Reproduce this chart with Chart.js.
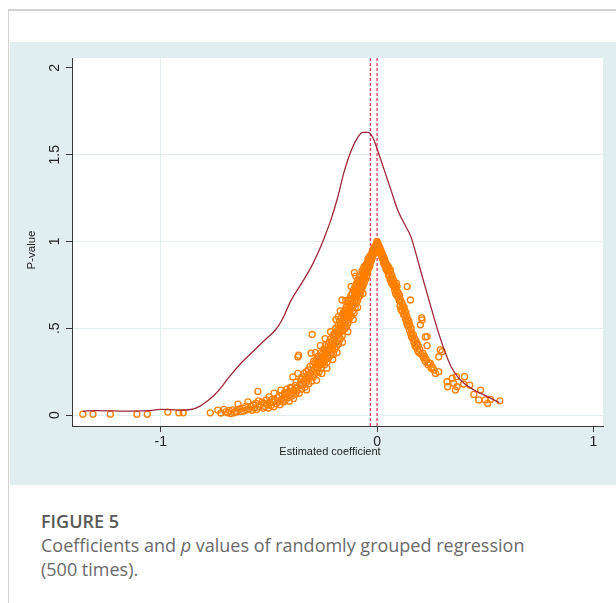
<!DOCTYPE html>
<html>
<head>
<meta charset="utf-8">
<script src="https://cdn.jsdelivr.net/npm/chart.js@4.4.1/dist/chart.umd.min.js"></script>
<style>
  html, body { margin: 0; padding: 0; background: #fff; }
  body { width: 616px; height: 603px; position: relative; overflow: hidden; font-family: "Open Sans", sans-serif; }
  .frame { position: absolute; left: 8px; top: 9px; right: 0; bottom: 0; border-top: 2px solid #d2d2d2; border-left: 1px solid #d2d2d2; }
  .panel { position: absolute; left: 10px; top: 42px; width: 606px; height: 443px; background: #e1eeef; }
  #chart { position: absolute; left: 0; top: 0; }
  .caption { position: absolute; left: 41px; top: 509px; width: 520px; color: #6a6a6a; font-size: 18px; line-height: 24px; }
  .caption .fig { color: #585858; font-weight: 600; display: block; }
</style>
</head>
<body>
<div class="frame"></div>
<div class="panel"><canvas id="chart" width="606" height="443"></canvas></div>
<div class="caption">
  <span class="fig">FIGURE 5</span>
  Coefficients and <i>p</i> values of randomly grouped regression (500 times).
</div>
<script>
// axis setup
const xTicks = [-1, 0, 1];
const xTickLabels = ["-1", "0", "1"];
const yTicks = [0, 0.5, 1, 1.5, 2];
const yTickLabels = ["0", ".5", "1", "1.5", "2"];
const xTitle = "Estimated coefficient";
const yTitle = "P-value";

// kernel density of the estimated coefficients (red line)
const densityX = [-1.36, -1.30, -1.15, -1.06, -1.00, -0.92, -0.86, -0.82, -0.78, -0.75, -0.72, -0.69,
  -0.63, -0.57, -0.52, -0.47, -0.44, -0.40, -0.35, -0.305, -0.275, -0.243, -0.212, -0.182, -0.151,
  -0.12, -0.09, -0.066, -0.043, -0.02, 0.003, 0.034, 0.065, 0.096, 0.126, 0.157, 0.188, 0.218,
  0.249, 0.28, 0.311, 0.342, 0.373, 0.403, 0.449, 0.496, 0.542, 0.565];
const densityY = [0.022, 0.026, 0.023, 0.025, 0.033, 0.029, 0.032, 0.05, 0.085, 0.118, 0.16, 0.21,
  0.297, 0.37, 0.431, 0.49, 0.546, 0.655, 0.757, 0.852, 0.929, 1.025, 1.13, 1.255, 1.408,
  1.523, 1.598, 1.628, 1.628, 1.599, 1.523, 1.408, 1.293, 1.178, 1.102, 1.025, 0.891, 0.757,
  0.622, 0.489, 0.374, 0.278, 0.22, 0.182, 0.144, 0.115, 0.086, 0.071];

// true coefficient lines (dashed)
const refLines = [-0.031, 0.0];

// (coefficient, p-value) of each grouped regression
const samples = [
  [-1.36,0.005],[-1.313,0.005],[-1.233,0.005],[-1.11,0.005],[-1.062,0.005],[-0.967,0.017],[-0.916,0.013],[-0.896,0.013],[-0.771,0.013],[-0.736,0.029],
  [-0.722,0.012],[-0.708,0.033],[-0.70,0.018],
  [-0.69,0.013],[-0.683,0.026],[-0.676,0.009],
  [-0.668,0.03],[-0.66,0.013],[-0.653,0.022],
  [-0.648,0.018],[-0.643,0.063],[-0.636,0.035],[-0.628,0.02],
  [-0.62,0.04],[-0.615,0.024],[-0.607,0.05],[-0.601,0.03],
  [-0.597,0.076],[-0.592,0.036],[-0.584,0.05],[-0.578,0.028],
  [-0.572,0.058],[-0.567,0.04],[-0.561,0.068],[-0.556,0.032],[-0.551,0.136],
  [-0.548,0.082],[-0.544,0.047],[-0.538,0.06],[-0.532,0.075],[-0.527,0.04],
  [-0.522,0.069],[-0.518,0.05],[-0.512,0.088],[-0.507,0.06],[-0.502,0.04],
  [-0.499,0.105],[-0.496,0.07],[-0.49,0.055],[-0.485,0.09],[-0.481,0.075],[-0.477,0.048],
  [-0.476,0.126],[-0.472,0.085],[-0.466,0.065],[-0.461,0.1],[-0.456,0.078],[-0.452,0.11],
  [-0.449,0.06],[-0.445,0.144],[-0.442,0.09],[-0.438,0.115],[-0.434,0.075],[-0.43,0.1],[-0.427,0.13],
  [-0.424,0.085],[-0.421,0.12],[-0.417,0.15],[-0.413,0.1],[-0.409,0.135],[-0.406,0.08],[-0.403,0.115],[-0.401,0.16],
  [-0.397,0.155],[-0.394,0.11],[-0.391,0.13],[-0.389,0.22],[-0.386,0.095],[-0.383,0.145],[-0.379,0.17],[-0.376,0.12],
  [-0.374,0.19],[-0.371,0.14],[-0.368,0.16],[-0.366,0.24],[-0.366,0.335],[-0.363,0.345],[-0.36,0.125],[-0.356,0.18],[-0.352,0.205],
  [-0.349,0.15],[-0.346,0.22],[-0.343,0.175],[-0.34,0.195],[-0.337,0.24],[-0.335,0.16],[-0.332,0.21],[-0.33,0.185],[-0.327,0.25],[-0.326,0.145],
  [-0.324,0.2],[-0.321,0.23],[-0.318,0.26],[-0.316,0.18],[-0.313,0.215],[-0.31,0.28],[-0.308,0.24],[-0.305,0.356],[-0.303,0.195],[-0.30,0.464],
  [-0.299,0.25],[-0.297,0.29],[-0.295,0.22],[-0.293,0.31],[-0.291,0.265],[-0.289,0.235],[-0.287,0.3],[-0.284,0.275],[-0.281,0.32],[-0.279,0.245],[-0.276,0.29],
  [-0.274,0.27],[-0.272,0.34],[-0.27,0.305],[-0.268,0.25],[-0.266,0.32],[-0.263,0.29],[-0.261,0.36],[-0.259,0.31],[-0.257,0.27],[-0.255,0.335],[-0.253,0.3],[-0.251,0.355],
  [-0.249,0.31],[-0.247,0.38],[-0.245,0.335],[-0.243,0.29],[-0.241,0.36],[-0.239,0.4],[-0.237,0.32],[-0.235,0.35],[-0.233,0.375],[-0.231,0.305],[-0.229,0.34],[-0.227,0.395],[-0.226,0.36],
  [-0.224,0.33],[-0.222,0.42],[-0.22,0.37],[-0.218,0.39],[-0.216,0.345],[-0.214,0.44],[-0.212,0.405],[-0.21,0.36],[-0.208,0.425],[-0.206,0.38],[-0.204,0.46],[-0.203,0.4],[-0.201,0.35],[-0.2,0.435],
  [-0.199,0.41],[-0.197,0.47],[-0.195,0.38],[-0.193,0.45],[-0.191,0.5],[-0.19,0.42],[-0.188,0.395],[-0.186,0.46],[-0.184,0.485],[-0.182,0.43],[-0.18,0.52],[-0.179,0.567],[-0.178,0.445],[-0.177,0.41],[-0.176,0.49],
  [-0.175,0.47],[-0.174,0.54],[-0.172,0.5],[-0.17,0.44],[-0.169,0.52],[-0.167,0.56],[-0.166,0.48],[-0.164,0.51],[-0.162,0.663],[-0.161,0.455],[-0.16,0.58],[-0.158,0.53],[-0.157,0.49],[-0.155,0.55],[-0.154,0.6],[-0.152,0.51],[-0.151,0.57],
  [-0.15,0.53],[-0.149,0.6],[-0.147,0.5],[-0.146,0.56],[-0.144,0.62],[-0.143,0.54],[-0.141,0.58],[-0.14,0.51],[-0.139,0.64],[-0.137,0.57],[-0.136,0.6],[-0.134,0.53],[-0.133,0.66],[-0.131,0.58],[-0.13,0.55],[-0.129,0.62],[-0.127,0.6],[-0.126,0.67],
  [-0.125,0.58],[-0.124,0.64],[-0.122,0.61],[-0.121,0.69],[-0.119,0.57],[-0.118,0.66],[-0.116,0.62],[-0.115,0.7],[-0.113,0.6],[-0.112,0.65],[-0.11,0.72],[-0.109,0.63],[-0.107,0.68],[-0.106,0.59],[-0.105,0.82],[-0.104,0.7],[-0.103,0.66],[-0.102,0.74],[-0.101,0.62],
  [-0.1,0.68],[-0.099,0.71],[-0.097,0.65],[-0.096,0.75],[-0.094,0.76],[-0.093,0.69],[-0.092,0.73],[-0.09,0.66],[-0.089,0.78],[-0.088,0.7],[-0.086,0.74],[-0.085,0.68],[-0.084,0.77],[-0.082,0.72],[-0.081,0.8],[-0.08,0.7],[-0.079,0.75],[-0.078,0.69],[-0.077,0.78],[-0.076,0.73],
  [-0.075,0.76],[-0.074,0.8],[-0.072,0.72],[-0.071,0.78],[-0.07,0.83],[-0.069,0.75],[-0.067,0.79],[-0.066,0.74],[-0.065,0.82],[-0.064,0.77],[-0.062,0.85],[-0.061,0.8],[-0.06,0.76],[-0.059,0.83],[-0.057,0.79],[-0.056,0.86],[-0.055,0.81],[-0.054,0.78],[-0.052,0.84],[-0.051,0.82],
  [-0.05,0.83],[-0.049,0.87],[-0.048,0.8],[-0.047,0.85],[-0.045,0.88],[-0.044,0.82],[-0.043,0.86],[-0.042,0.9],[-0.041,0.84],[-0.04,0.87],[-0.038,0.89],[-0.037,0.85],[-0.036,0.91],[-0.035,0.88],[-0.033,0.86],[-0.032,0.9],[-0.031,0.92],[-0.03,0.88],[-0.028,0.91],[-0.027,0.89],
  [-0.025,0.92],[-0.024,0.9],[-0.023,0.94],[-0.022,0.91],[-0.021,0.93],[-0.02,0.95],[-0.019,0.92],[-0.018,0.94],[-0.016,0.96],[-0.015,0.93],[-0.014,0.95],[-0.012,0.97],[-0.011,0.94],[-0.01,0.96],[-0.008,0.97],[-0.007,0.95],[-0.005,0.98],[-0.004,0.97],[-0.002,0.99],[-0.001,1.0],
  [-0.285,0.36],[-0.262,0.4],[-0.24,0.44],[-0.215,0.48],[-0.19,0.55],[-0.17,0.6],[-0.145,0.66],[-0.12,0.74],[-0.098,0.8],
  [-0.28,0.2],[-0.255,0.24],[-0.232,0.27],[-0.205,0.32],[-0.185,0.36],[-0.16,0.42],[-0.135,0.48],[-0.11,0.55],[-0.09,0.62],[-0.065,0.7],
  [0.001,0.995],[0.002,0.98],[0.004,0.97],[0.005,0.985],[0.007,0.96],[0.008,0.975],[0.01,0.95],[0.011,0.965],[0.013,0.94],[0.014,0.96],[0.016,0.93],[0.017,0.95],[0.019,0.92],[0.02,0.94],[0.022,0.91],[0.024,0.93],
  [0.025,0.9],[0.027,0.92],[0.029,0.88],[0.03,0.91],[0.032,0.87],[0.034,0.89],[0.035,0.9],[0.037,0.86],[0.039,0.88],[0.041,0.84],[0.043,0.87],[0.045,0.85],[0.047,0.83],[0.049,0.86],
  [0.05,0.84],[0.052,0.81],[0.054,0.85],[0.056,0.8],[0.058,0.83],[0.06,0.78],[0.061,0.836],[0.063,0.79],[0.065,0.81],[0.067,0.76],[0.069,0.8],[0.071,0.77],[0.073,0.75],
  [0.075,0.78],[0.077,0.74],[0.079,0.76],[0.081,0.72],[0.083,0.75],[0.085,0.7],[0.087,0.73],[0.089,0.76],[0.091,0.69],[0.092,0.74],[0.094,0.71],[0.097,0.68],
  [0.1,0.7],[0.102,0.66],[0.104,0.69],[0.106,0.63],[0.108,0.663],[0.11,0.61],[0.112,0.65],[0.115,0.6],[0.117,0.64],[0.119,0.62],[0.122,0.58],
  [0.125,0.62],[0.127,0.58],[0.129,0.6],[0.131,0.555],[0.133,0.59],[0.135,0.54],[0.137,0.567],[0.139,0.74],[0.139,0.52],[0.142,0.55],
  [0.145,0.51],[0.147,0.54],[0.149,0.49],[0.151,0.52],[0.154,0.663],[0.155,0.47],[0.157,0.5],[0.159,0.45],[0.162,0.471],[0.165,0.44],
  [0.168,0.46],[0.17,0.42],[0.173,0.44],[0.175,0.4],[0.178,0.43],[0.181,0.39],[0.183,0.41],[0.185,0.414],[0.188,0.37],
  [0.19,0.4],[0.193,0.36],[0.196,0.38],[0.2,0.52],[0.203,0.35],[0.206,0.56],[0.208,0.548],[0.212,0.356],[0.215,0.33],
  [0.218,0.34],[0.222,0.31],[0.223,0.45],[0.227,0.32],[0.231,0.452],[0.231,0.4],[0.235,0.29],
  [0.24,0.3],[0.246,0.298],[0.25,0.27],[0.255,0.277],[0.262,0.26],
  [0.27,0.24],[0.285,0.336],[0.285,0.25],[0.292,0.375],[0.30,0.365],
  [0.323,0.192],[0.326,0.163],[0.347,0.212],[0.354,0.183],[0.37,0.163],[0.362,0.144],[0.367,0.221],[0.404,0.221],[0.40,0.179],
  [0.428,0.173],[0.478,0.144],[0.447,0.119],[0.47,0.087],[0.50,0.087],[0.511,0.067],[0.524,0.09],[0.567,0.082]
];

const xMin = -1.41, xMax = 1.044;
const yMin = -0.063, yMax = 2.057;

const axisColor = "#3a3a3a";
const gridColor = "#e4eef0";
const clear = "rgba(0,0,0,0)";

const plotFrame = {
  id: "plotFrame",
  beforeDraw(chart) {
    const { ctx, chartArea: a } = chart;
    ctx.save();
    ctx.fillStyle = "#ffffff";
    ctx.fillRect(a.left, a.top, a.right - a.left, a.bottom - a.top);
    ctx.restore();
  },
  afterDraw(chart) {
    const { ctx, chartArea: a, scales } = chart;
    ctx.save();
    ctx.fillStyle = "#222";
    ctx.font = "14px 'Liberation Sans', Arial, sans-serif";
    ctx.textAlign = "center";
    ctx.textBaseline = "middle";
    xTicks.forEach((v, i) => {
      ctx.fillText(xTickLabels[i], scales.x.getPixelForValue(v), a.bottom + 16);
    });
    yTicks.forEach((v, i) => {
      ctx.save();
      ctx.translate(a.left - 17, scales.y.getPixelForValue(v));
      ctx.rotate(-Math.PI / 2);
      ctx.fillText(yTickLabels[i], 0, 0);
      ctx.restore();
    });
    ctx.font = "11px 'Liberation Sans', Arial, sans-serif";
    ctx.fillText(xTitle, 320, a.bottom + 26);
    ctx.save();
    ctx.translate(22, 208);
    ctx.rotate(-Math.PI / 2);
    ctx.font = "11.5px 'Liberation Sans', Arial, sans-serif";
    ctx.fillText(yTitle, 0, 0);
    ctx.restore();
    ctx.restore();
  }
};

const datasets = refLines.map(v => ({
  type: "line",
  data: [{ x: v, y: yMin }, { x: v, y: yMax }],
  borderColor: "#ec3b5e",
  borderWidth: 1.3,
  borderDash: [3, 2],
  pointRadius: 0,
  order: 3
}));

datasets.push({
  type: "scatter",
  data: samples.map(s => ({ x: s[0], y: s[1] })),
  pointStyle: "circle",
  pointRadius: 3,
  pointBorderWidth: 1.3,
  borderColor: "#ff7f00",
  backgroundColor: clear,
  order: 2
});

datasets.push({
  type: "line",
  data: densityX.map((x, i) => ({ x: x, y: densityY[i] })),
  borderColor: "#a02738",
  borderWidth: 1.3,
  pointRadius: 0,
  cubicInterpolationMode: "monotone",
  order: 1
});

new Chart(document.getElementById("chart"), {
  data: { datasets: datasets },
  options: {
    responsive: false,
    animation: false,
    layout: { padding: { left: 56, top: 16, right: 13, bottom: 53 } },
    scales: {
      x: {
        type: "linear",
        min: xMin,
        max: xMax,
        afterBuildTicks: s => { s.ticks = xTicks.map(v => ({ value: v })); },
        ticks: { display: false },
        grid: {
          color: c => (c.tick && c.tick.value === -1 ? gridColor : clear),
          tickColor: axisColor,
          tickLength: 6,
          lineWidth: 1
        },
        border: { color: axisColor, width: 1 }
      },
      y: {
        type: "linear",
        min: yMin,
        max: yMax,
        afterBuildTicks: s => { s.ticks = yTicks.map(v => ({ value: v })); },
        ticks: { display: false },
        grid: {
          color: c => (c.tick && c.tick.value === 2 ? clear : gridColor),
          tickColor: axisColor,
          tickLength: 6,
          lineWidth: 1
        },
        border: { color: axisColor, width: 1 }
      }
    },
    plugins: {
      legend: { display: false },
      tooltip: { enabled: false }
    }
  },
  plugins: [plotFrame]
});
</script>
</body>
</html>
